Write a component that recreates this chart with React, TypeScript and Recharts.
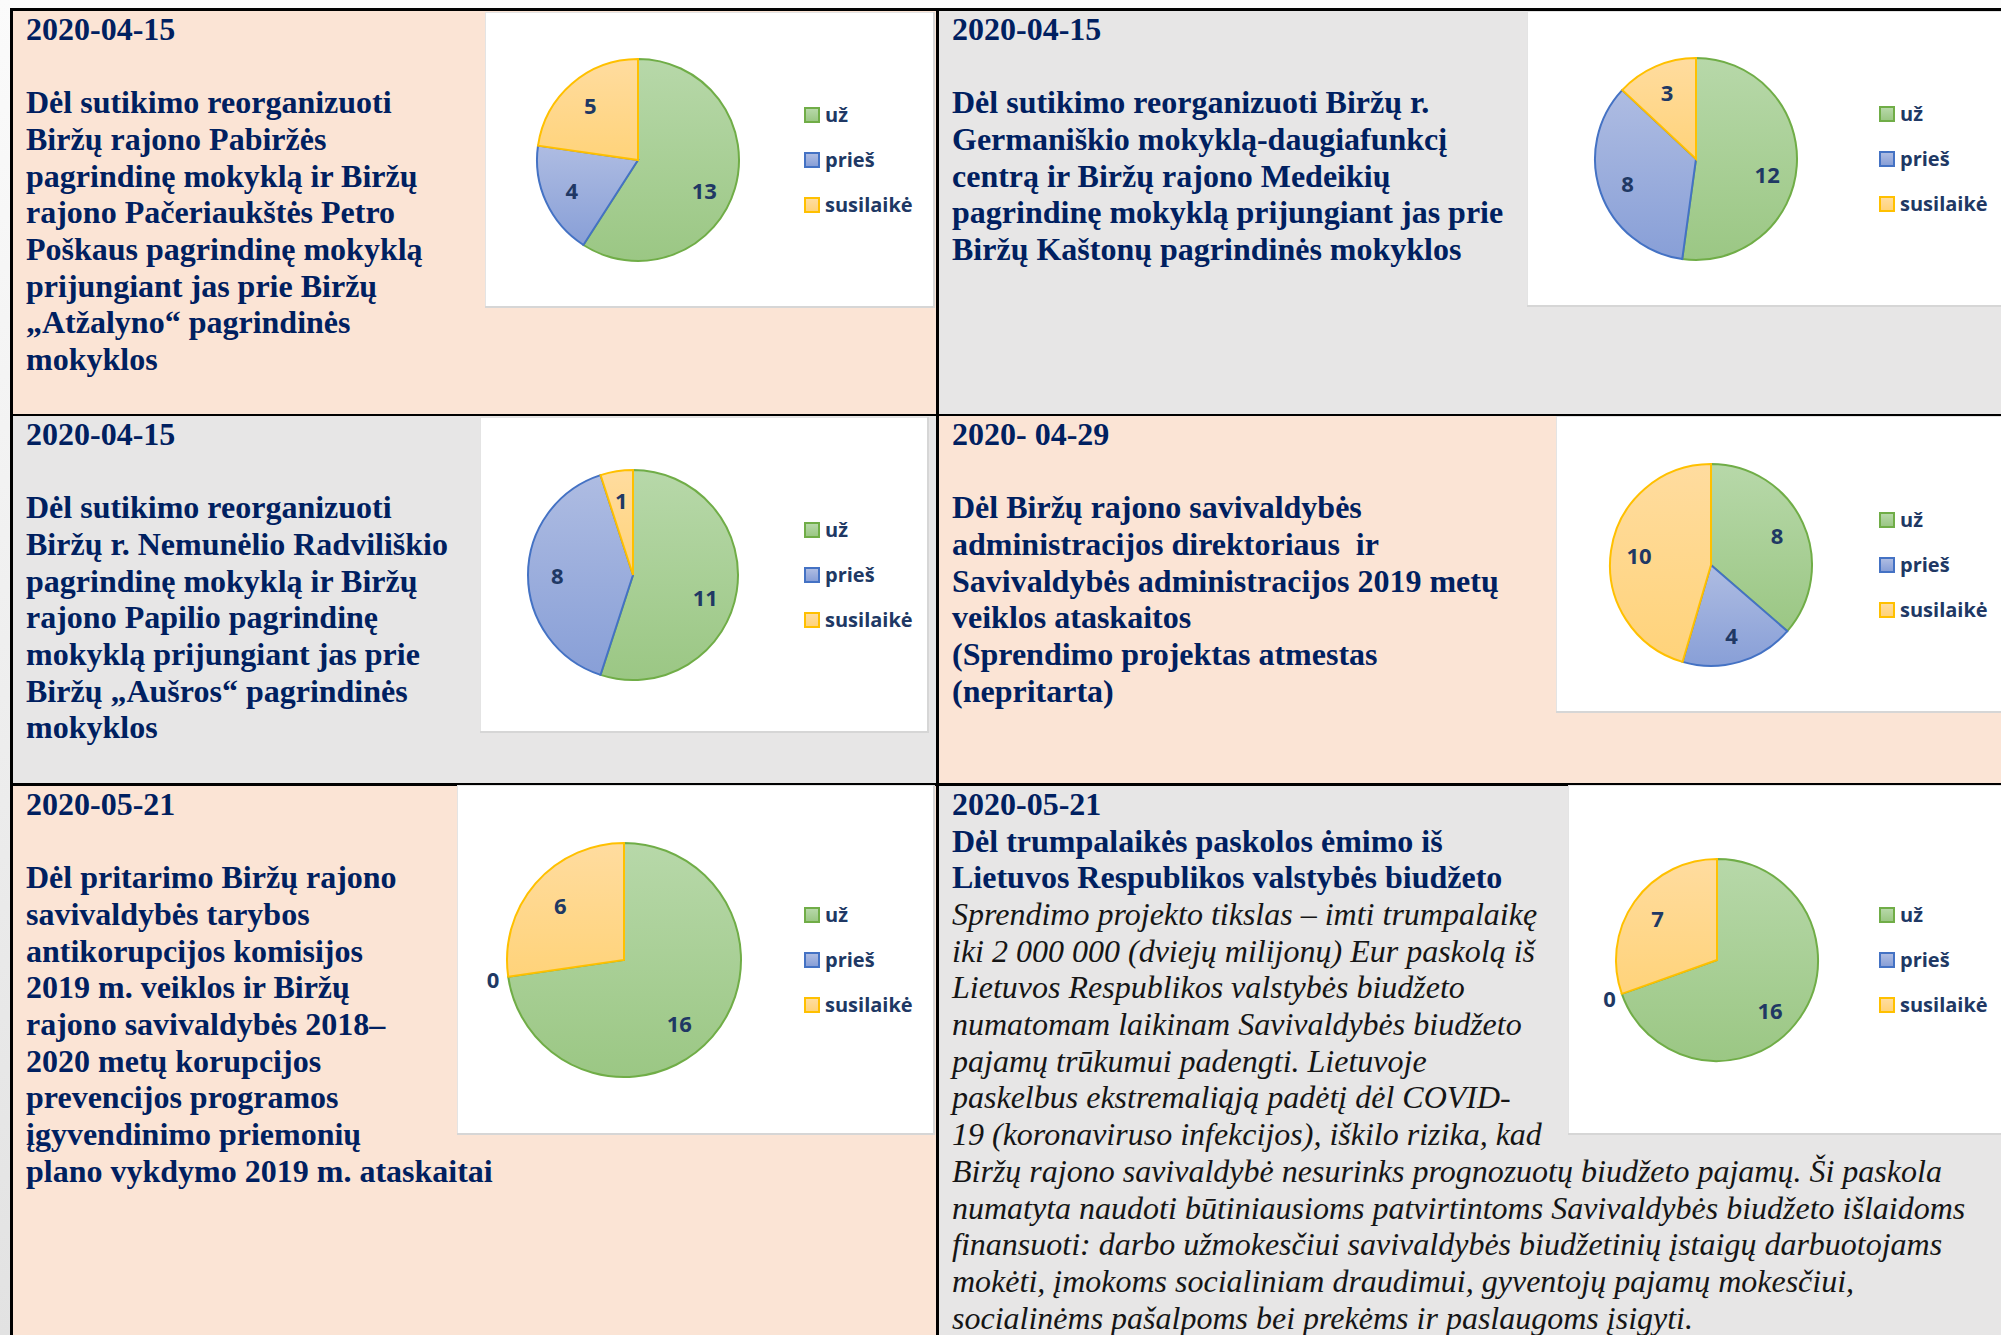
import { PieChart, Pie, Cell, Legend } from 'recharts'

// balsavimo rezultatai (už, prieš, susilaikė)
const voteLabels = ['už', 'prieš', 'susilaikė']
const votesPabirze = [13, 4, 5]
const votesGermaniskis = [12, 8, 3]
const votesNemunelis = [11, 8, 1]
const votesAdminReport = [8, 4, 10]
const votesAntiCorruption = [16, 0, 6]
const votesLoan = [16, 0, 7]

const SLICES = [
  { top: '#B7D8A9', bottom: '#9BC784', stroke: '#70AD47' },
  { top: '#AEBCE2', bottom: '#889FD7', stroke: '#4472C4' },
  { top: '#FFDC9F', bottom: '#FFD37A', stroke: '#FFC000' },
]

const NAVY = '#002060'
const LABEL = '#203864'
const PEACH = '#FBE4D5'
const GRAY = '#E7E6E6'

type Line = { text: string; italic?: boolean }

const textPabirze: Line[] = [
  '2020-04-15', '\u00a0', 'Dėl sutikimo reorganizuoti', 'Biržų rajono Pabiržės',
  'pagrindinę mokyklą ir Biržų', 'rajono Pačeriaukštės Petro', 'Poškaus pagrindinę mokyklą',
  'prijungiant jas prie Biržų', '„Atžalyno“ pagrindinės', 'mokyklos',
].map((text) => ({ text }))

const textGermaniskis: Line[] = [
  '2020-04-15', '\u00a0', 'Dėl sutikimo reorganizuoti Biržų r.', 'Germaniškio mokyklą-daugiafunkcį',
  'centrą ir Biržų rajono Medeikių', 'pagrindinę mokyklą prijungiant jas prie',
  'Biržų Kaštonų pagrindinės mokyklos',
].map((text) => ({ text }))

const textNemunelis: Line[] = [
  '2020-04-15', '\u00a0', 'Dėl sutikimo reorganizuoti', 'Biržų r. Nemunėlio Radviliškio',
  'pagrindinę mokyklą ir Biržų', 'rajono Papilio pagrindinę', 'mokyklą prijungiant jas prie',
  'Biržų „Aušros“ pagrindinės', 'mokyklos',
].map((text) => ({ text }))

const textAdminReport: Line[] = [
  '2020- 04-29', '\u00a0', 'Dėl Biržų rajono savivaldybės', 'administracijos direktoriaus  ir',
  'Savivaldybės administracijos 2019 metų', 'veiklos ataskaitos', '(Sprendimo projektas atmestas',
  '(nepritarta)',
].map((text) => ({ text }))

const textAntiCorruption: Line[] = [
  '2020-05-21', '\u00a0', 'Dėl pritarimo Biržų rajono', 'savivaldybės tarybos',
  'antikorupcijos komisijos', '2019 m. veiklos ir Biržų', 'rajono savivaldybės 2018–',
  '2020 metų korupcijos', 'prevencijos programos', 'įgyvendinimo priemonių',
  'plano vykdymo 2019 m. ataskaitai',
].map((text) => ({ text }))

const textLoan: Line[] = [
  ...['2020-05-21', 'Dėl trumpalaikės paskolos ėmimo iš', 'Lietuvos Respublikos valstybės biudžeto'].map(
    (text) => ({ text })
  ),
  ...[
    'Sprendimo projekto tikslas – imti trumpalaikę',
    'iki 2 000 000 (dviejų milijonų) Eur paskolą iš',
    'Lietuvos Respublikos valstybės biudžeto',
    'numatomam laikinam Savivaldybės biudžeto',
    'pajamų trūkumui padengti. Lietuvoje',
    'paskelbus ekstremaliąją padėtį dėl COVID-',
    '19 (koronaviruso infekcijos), iškilo rizika, kad',
    'Biržų rajono savivaldybė nesurinks prognozuotų biudžeto pajamų. Ši paskola',
    'numatyta naudoti būtiniausioms patvirtintoms Savivaldybės biudžeto išlaidoms',
    'finansuoti: darbo užmokesčiui savivaldybės biudžetinių įstaigų darbuotojams',
    'mokėti, įmokoms socialiniam draudimui, gyventojų pajamų mokesčiui,',
    'socialinėms pašalpoms bei prekėms ir paslaugoms įsigyti.',
  ].map((text) => ({ text, italic: true })),
]

function TextBlock({ x, y, lines }: { x: number; y: number; lines: Line[] }) {
  return (
    <div
      style={{
        position: 'absolute',
        left: x,
        top: y,
        fontFamily: '"Liberation Serif", "Times New Roman", serif',
        fontSize: 32,
        lineHeight: '36.7px',
      }}
    >
      {lines.map((l, i) => (
        <div
          key={i}
          style={{
            whiteSpace: 'pre',
            fontWeight: l.italic ? 400 : 700,
            fontStyle: l.italic ? 'italic' : 'normal',
            color: l.italic ? '#151515' : NAVY,
          }}
        >
          {l.text}
        </div>
      ))}
    </div>
  )
}

type PieBox = {
  id: string
  values: number[]
  left: number
  top: number
  width: number
  height: number
  cx: number
  cy: number
  r: number
  legendX: number
}

function VotePie({ id, values, left, top, width, height, cx, cy, r, legendX }: PieBox) {
  const data = voteLabels.map((name, i) => ({ name, value: values[i] }))

  const renderLabel = (p: any) => {
    const RAD = Math.PI / 180
    const rr = p.value === 0 ? r * 1.13 : r * 0.72
    // Excel "best fit" pushes labels of the big slices a little lower
    const angle = p.percent > 0.5 ? p.midAngle - 8 : p.midAngle
    const x = cx + rr * Math.cos(-angle * RAD)
    const y = cy + rr * Math.sin(-angle * RAD)
    return (
      <text
        x={x}
        y={y}
        fill={LABEL}
        textAnchor="middle"
        dominantBaseline="central"
        fontFamily="Open Sans"
        fontWeight={700}
        fontSize={22}
      >
        {p.value}
      </text>
    )
  }

  const legend = () => (
    <div style={{ fontFamily: 'Open Sans', fontWeight: 700, fontSize: 20, color: LABEL }}>
      {voteLabels.map((name, i) => (
        <div key={name} style={{ height: 45, display: 'flex', alignItems: 'center' }}>
          <span
            style={{
              display: 'inline-block',
              width: 12,
              height: 12,
              marginRight: 5,
              border: `2px solid ${SLICES[i].stroke}`,
              background: `linear-gradient(${SLICES[i].top}, ${SLICES[i].bottom})`,
            }}
          />
          <span style={{ lineHeight: '22px' }}>{name}</span>
        </div>
      ))}
    </div>
  )

  return (
    <div
      style={{
        position: 'absolute',
        left,
        top,
        width,
        height,
        background: '#fff',
        boxShadow: 'inset -2px -2px 0 #d6d6d6, inset 1px 1px 0 #e4e4e4',
      }}
    >
      <PieChart width={width} height={height} margin={{ top: 0, right: 0, bottom: 0, left: 0 }}>
        <defs>
          {SLICES.map((s, i) => (
            <linearGradient key={i} id={`${id}-${i}`} x1="0" y1="0" x2="0" y2="1">
              <stop offset="0%" stopColor={s.top} />
              <stop offset="100%" stopColor={s.bottom} />
            </linearGradient>
          ))}
        </defs>
        <Pie
          data={data}
          dataKey="value"
          nameKey="name"
          cx={cx}
          cy={cy}
          outerRadius={r}
          startAngle={90}
          endAngle={-270}
          label={renderLabel}
          labelLine={false}
          isAnimationActive={false}
        >
          {data.map((d, i) => (
            <Cell key={d.name} fill={`url(#${id}-${i})`} stroke={SLICES[i].stroke} strokeWidth={2} />
          ))}
        </Pie>
        <Legend
          layout="vertical"
          content={legend}
          wrapperStyle={{ position: 'absolute', left: legendX, top: cy - 67.5, width: 140 }}
        />
      </PieChart>
    </div>
  )
}

export default function App() {
  return (
    <div
      style={{
        position: 'absolute',
        left: 0,
        top: 0,
        width: 2001,
        height: 1335,
        overflow: 'hidden',
        background: 'linear-gradient(#fbfbfb, #e2e2e2)',
      }}
    >
      {/* cell backgrounds */}
      <div style={{ position: 'absolute', left: 12, top: 11, width: 924, height: 403, background: PEACH }} />
      <div style={{ position: 'absolute', left: 938, top: 11, width: 1063, height: 403, background: GRAY }} />
      <div style={{ position: 'absolute', left: 12, top: 416, width: 924, height: 367, background: GRAY }} />
      <div style={{ position: 'absolute', left: 938, top: 416, width: 1063, height: 367, background: PEACH }} />
      <div style={{ position: 'absolute', left: 12, top: 785, width: 924, height: 560, background: PEACH }} />
      <div style={{ position: 'absolute', left: 938, top: 785, width: 1063, height: 560, background: GRAY }} />

      {/* table lines */}
      <div style={{ position: 'absolute', left: 10, top: 8, width: 1991, height: 3, background: '#000' }} />
      <div style={{ position: 'absolute', left: 10, top: 8, width: 2.5, height: 1327, background: '#000' }} />
      <div style={{ position: 'absolute', left: 936, top: 8, width: 2.5, height: 1327, background: '#000' }} />
      <div style={{ position: 'absolute', left: 10, top: 413.5, width: 1991, height: 2.5, background: '#000' }} />
      <div style={{ position: 'absolute', left: 10, top: 783, width: 1991, height: 2.5, background: '#000' }} />

      <TextBlock x={26} y={10.8} lines={textPabirze} />
      <TextBlock x={952} y={10.8} lines={textGermaniskis} />
      <TextBlock x={26} y={415.8} lines={textNemunelis} />
      <TextBlock x={952} y={415.8} lines={textAdminReport} />
      <TextBlock x={26} y={785.8} lines={textAntiCorruption} />
      <TextBlock x={952} y={785.8} lines={textLoan} />

      <VotePie id="p1" values={votesPabirze} left={485} top={12} width={450} height={296} cx={153} cy={148} r={101} legendX={319} />
      <VotePie id="p2" values={votesGermaniskis} left={1527} top={11} width={480} height={296} cx={169} cy={148} r={101} legendX={352} />
      <VotePie id="p3" values={votesNemunelis} left={480} top={417} width={449} height={316} cx={153} cy={158} r={105} legendX={324} />
      <VotePie id="p4" values={votesAdminReport} left={1556} top={416} width={450} height={297} cx={155} cy={149} r={101} legendX={323} />
      <VotePie id="p5" values={votesAntiCorruption} left={457} top={785} width={478} height={350} cx={167} cy={175} r={117} legendX={347} />
      <VotePie id="p6" values={votesLoan} left={1568} top={785} width={450} height={350} cx={149} cy={175} r={101} legendX={311} />
    </div>
  )
}
